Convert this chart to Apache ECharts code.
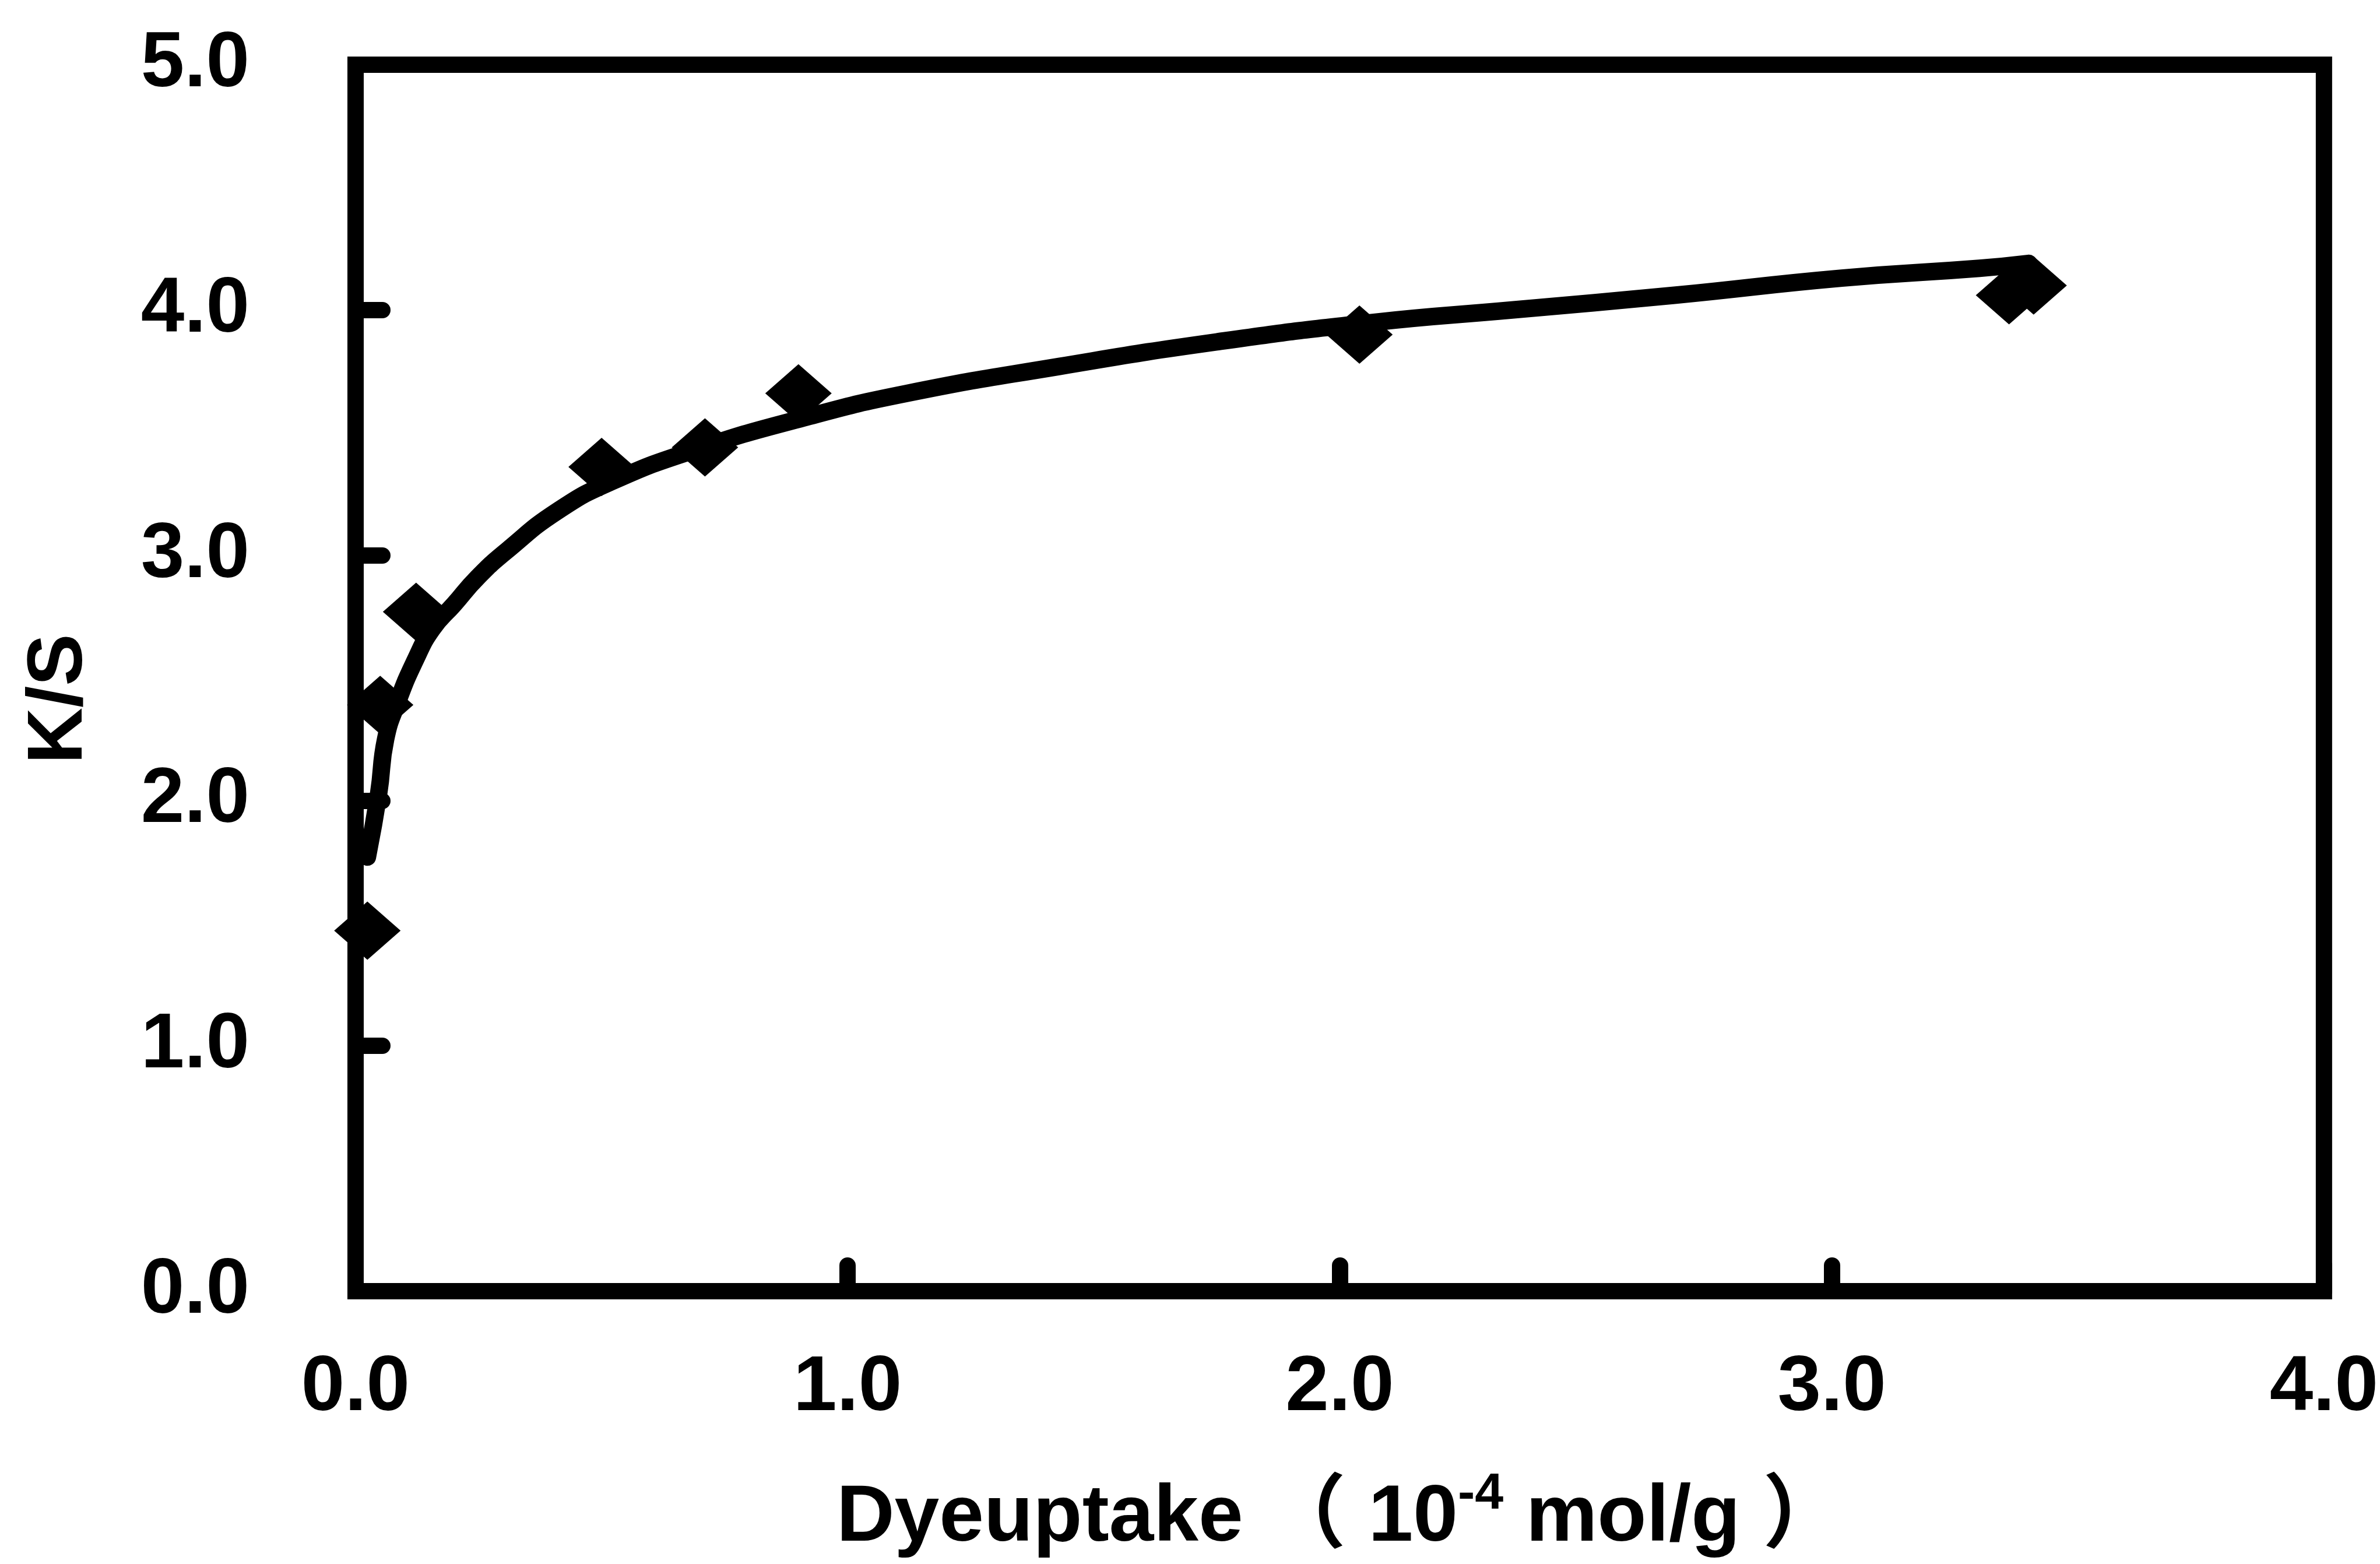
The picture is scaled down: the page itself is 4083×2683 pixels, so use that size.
<!DOCTYPE html>
<html>
<head>
<meta charset="utf-8">
<script src="https://cdn.jsdelivr.net/npm/echarts@6/dist/echarts.min.js"></script>
<style>
  html, body { margin: 0; padding: 0; background: #fff; }
  #chart { width: 4083px; height: 2683px; }
</style>
</head>
<body>
<div id="chart"></div>
<script>
// measured points (diamonds)
var uptakeX = [0.024, 0.050, 0.123, 0.50, 0.71, 0.90, 2.04, 3.36, 3.41];
var ksY     = [1.47, 2.39, 2.77, 3.36, 3.44, 3.66, 3.90, 4.06, 4.10];

// fitted curve
var fitX = [0.024, 0.047, 0.061, 0.085, 0.123, 0.156, 0.200, 0.248, 0.308,
            0.41, 0.52, 0.69, 0.91, 1.12, 1.43, 1.75, 2.07, 2.35, 2.68, 3.02, 3.30, 3.40];
var fitY = [1.77, 2.03, 2.25, 2.40, 2.58, 2.70, 2.80, 2.91, 3.02,
            3.18, 3.30, 3.43, 3.56, 3.66, 3.77, 3.87, 3.95, 4.00, 4.06, 4.13, 4.17, 4.19];

var xTicks = [0, 1, 2, 3, 4];
var yTicks = [0, 1, 2, 3, 4, 5];

var FONT = "'Liberation Sans', Arial, 'Noto Sans CJK JP', sans-serif";

function pairs(xs, ys) {
    return xs.map(function (x, i) { return [x, ys[i]]; });
}

var chart = echarts.init(document.getElementById('chart'));
chart.setOption({
    backgroundColor: '#fff',
    animation: false,
    grid: {
        left: 610, right: 85, top: 111, bottom: 468,
        show: true,
        borderColor: '#000',
        borderWidth: 28,
        backgroundColor: 'transparent'
    },
    xAxis: {
        type: 'value',
        min: xTicks[0], max: xTicks[xTicks.length - 1], interval: 1,
        name: '{a|Dyeuptake （ 10}{s|-4}{a| mol/g ）}',
        nameLocation: 'middle',
        nameGap: 305,
        nameTextStyle: {
            rich: {
                a: { fontSize: 138, fontWeight: 'bold', fontFamily: FONT, color: '#000', lineHeight: 170 },
                s: { fontSize: 88, fontWeight: 'bold', fontFamily: FONT, color: '#000', lineHeight: 56, verticalAlign: 'top' }
            }
        },
        axisLine: { show: false },
        splitLine: { show: false },
        axisTick: { inside: true, length: 44, lineStyle: { color: '#000', width: 28, cap: 'round' } },
        axisLabel: {
            margin: 100,
            fontSize: 134, fontWeight: 'bold', fontFamily: FONT, color: '#000',
            formatter: function (v) { return v.toFixed(1); }
        }
    },
    yAxis: {
        type: 'value',
        min: yTicks[0], max: yTicks[yTicks.length - 1], interval: 1,
        name: 'K/S',
        nameLocation: 'middle',
        nameGap: 440,
        nameTextStyle: { fontSize: 134, fontWeight: 'bold', fontFamily: FONT, color: '#000', padding: [0, 72, 0, 0] },
        axisLine: { show: false },
        splitLine: { show: false },
        axisTick: { inside: true, length: 46, lineStyle: { color: '#000', width: 28, cap: 'round' } },
        axisLabel: {
            margin: 182,
            fontSize: 134, fontWeight: 'bold', fontFamily: FONT, color: '#000',
            formatter: function (v) { return v.toFixed(1); }
        }
    },
    series: [
        {
            name: 'fit',
            type: 'line',
            data: pairs(fitX, fitY),
            smooth: 0.5,
            showSymbol: false,
            clip: false,
            lineStyle: { color: '#000', width: 30, cap: 'round', join: 'round' },
            z: 3
        },
        {
            name: 'K/S',
            type: 'scatter',
            data: pairs(uptakeX, ksY),
            symbol: 'diamond',
            symbolSize: [114, 100],
            itemStyle: { color: '#000', opacity: 1 },
            z: 4
        }
    ]
});
</script>
</body>
</html>
